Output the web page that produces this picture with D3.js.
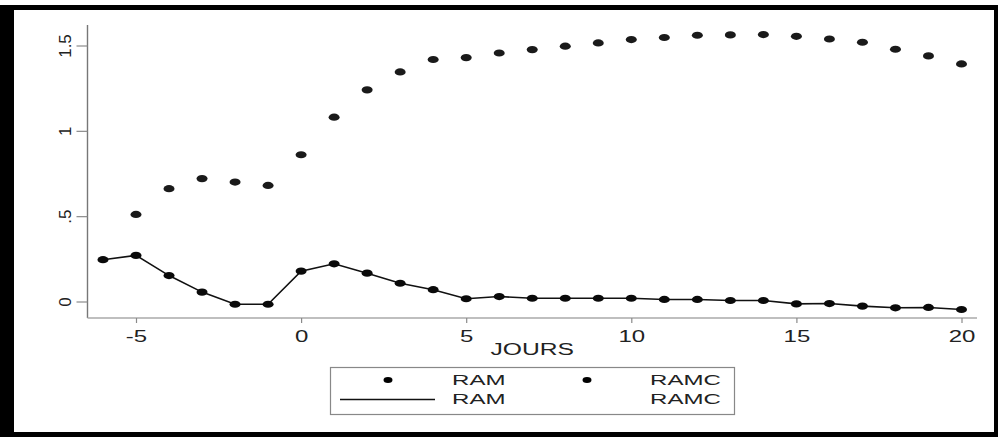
<!DOCTYPE html>
<html>
<head>
<meta charset="utf-8">
<script src="https://cdn.jsdelivr.net/npm/d3@7"></script>
<style>
  html, body { margin: 0; padding: 0; background: #fff; }
  svg { display: block; }
  text { font-family: "Liberation Sans", Arial, Helvetica, sans-serif; fill: #222; }
</style>
</head>
<body>
<svg id="chart" width="998" height="437"></svg>
<script>
// Days relative to the event
const days = [-6, -5, -4, -3, -2, -1, 0, 1, 2, 3, 4, 5, 6, 7, 8, 9, 10, 11, 12, 13, 14, 15, 16, 17, 18, 19, 20];

// RAM: mean abnormal return (markers joined by a line)
const ram = [0.245, 0.27, 0.152, 0.055, -0.016, -0.016, 0.178, 0.221, 0.166, 0.107, 0.069, 0.016, 0.029,
             0.019, 0.019, 0.019, 0.019, 0.012, 0.012, 0.006, 0.006, -0.014, -0.012, -0.027, -0.037, -0.035, -0.047];

// RAMC: cumulative mean abnormal return (markers only), no value on day -6
const ramc = [null, 0.51, 0.661, 0.72, 0.70, 0.68, 0.86, 1.08, 1.24, 1.345, 1.418, 1.429, 1.456,
              1.476, 1.496, 1.515, 1.535, 1.547, 1.56, 1.562, 1.564, 1.554, 1.538, 1.519, 1.478, 1.439, 1.392];

const xTicks = [-5, 0, 5, 10, 15, 20];
const yTicks = [0, 0.5, 1, 1.5];
const yTickLabels = ["0", ".5", "1", "1.5"];
const xTitle = "JOURS";
const legendItems = ["RAM", "RAMC"];

const svg = d3.select("#chart");
const W = 998, H = 437;

// white page with the heavy black frame
svg.append("rect").attr("width", W).attr("height", H).attr("fill", "#fff");
const frame = svg.append("g").attr("fill", "#000");
frame.append("rect").attr("x", 0).attr("y", 5).attr("width", 14).attr("height", H - 5);
frame.append("rect").attr("x", 0).attr("y", 5).attr("width", W).attr("height", 5);
frame.append("rect").attr("x", W - 4).attr("y", 5).attr("width", 4).attr("height", H - 5);
frame.append("rect").attr("x", 0).attr("y", H - 5).attr("width", W).attr("height", 5);

const x = d3.scaleLinear().domain([-5, 20]).range([136, 961.5]);
const y = d3.scaleLinear().domain([0, 1.5]).range([301.5, 45.5]);

const axisColor = "#8a8a8a";
const yAxisX = 87.5, xAxisY = 318;

// axis lines
svg.append("line").attr("x1", yAxisX).attr("x2", yAxisX).attr("y1", 25).attr("y2", xAxisY)
  .attr("stroke", "#777").attr("stroke-width", 1.4);
svg.append("line").attr("x1", yAxisX).attr("x2", 977).attr("y1", xAxisY).attr("y2", xAxisY)
  .attr("stroke", "#aaa").attr("stroke-width", 1.4);

// y axis
const yAxis = svg.append("g").attr("transform", `translate(${yAxisX},0)`)
  .call(d3.axisLeft(y).tickValues(yTicks).tickSize(11).tickSizeOuter(0)
    .tickFormat((d, i) => yTickLabels[i]));
yAxis.select(".domain").remove();
yAxis.selectAll(".tick line").attr("stroke", axisColor).attr("stroke-width", 1.2);
yAxis.selectAll(".tick text")
  .attr("x", null).attr("y", null).attr("dy", null)
  .attr("transform", "translate(-17,0) rotate(-90)")
  .attr("text-anchor", "middle")
  .style("font-size", "17px").attr("fill", "#333");

// x axis
const xAxis = svg.append("g").attr("transform", `translate(0,${xAxisY})`)
  .call(d3.axisBottom(x).tickValues(xTicks).tickSize(5).tickSizeOuter(0).tickFormat(d => String(d)));
xAxis.select(".domain").remove();
xAxis.selectAll(".tick line").attr("stroke", axisColor).attr("stroke-width", 1.2);
xAxis.selectAll(".tick text")
  .attr("y", null).attr("dy", null)
  .attr("transform", "translate(0,23.5) scale(1.5,1)")
  .attr("text-anchor", "middle")
  .style("font-size", "16px").attr("fill", "#333");

svg.append("text").text(xTitle)
  .attr("transform", `translate(${x(7)},355) scale(1.54,1)`)
  .attr("text-anchor", "middle").style("font-size", "16px").attr("fill", "#333");

// RAM line
const ramPts = days.map((d, i) => ({ d, v: ram[i] }));
const ramcPts = days.map((d, i) => ({ d, v: ramc[i] })).filter(p => p.v !== null);

svg.append("path").datum(ramPts)
  .attr("d", d3.line().x(p => x(p.d)).y(p => y(p.v)))
  .attr("fill", "none").attr("stroke", "#111").attr("stroke-width", 1.6);

svg.append("g").selectAll("ellipse").data(ramPts).join("ellipse")
  .attr("cx", p => x(p.d)).attr("cy", p => y(p.v))
  .attr("rx", 5.5).attr("ry", 3.6).attr("fill", "#0a0a0a");

svg.append("g").selectAll("ellipse").data(ramcPts).join("ellipse")
  .attr("cx", p => x(p.d)).attr("cy", p => y(p.v))
  .attr("rx", 5.5).attr("ry", 3.6).attr("fill", "#1a1a1a");

// legend
const lg = svg.append("g");
lg.append("rect").attr("x", 330.5).attr("y", 367.5).attr("width", 404).attr("height", 47)
  .attr("fill", "#fff").attr("stroke", "#888").attr("stroke-width", 1.2);
lg.append("ellipse").attr("cx", 388).attr("cy", 380).attr("rx", 4.5).attr("ry", 3).attr("fill", "#000");
lg.append("ellipse").attr("cx", 587).attr("cy", 380).attr("rx", 4.5).attr("ry", 3).attr("fill", "#000");
lg.append("line").attr("x1", 340).attr("x2", 435).attr("y1", 399.5).attr("y2", 399.5)
  .attr("stroke", "#111").attr("stroke-width", 1.3);
[[452, 385, legendItems[0]], [650, 385, legendItems[1]], [452, 404, legendItems[0]], [650, 404, legendItems[1]]]
  .forEach(([tx, ty, label]) => {
    lg.append("text").text(label)
      .attr("transform", `translate(${tx},${ty}) scale(1.72,1)`)
      .style("font-size", "14px").attr("fill", "#333");
  });
</script>
</body>
</html>
